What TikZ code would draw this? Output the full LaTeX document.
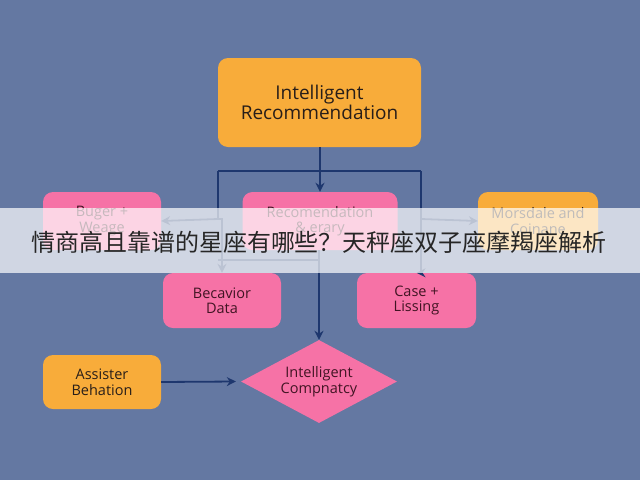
\documentclass[tikz,border=0pt]{standalone}
\usepackage{fontspec}
\setmainfont{Open Sans}
\newfontfamily\cjk{Noto Sans CJK SC}
\usetikzlibrary{arrows.meta,shapes.geometric}
\definecolor{bgc}{RGB}{100,120,162}
\definecolor{orng}{RGB}{248,172,58}
\definecolor{pnk}{RGB}{246,114,166}
\definecolor{navy}{RGB}{30,55,110}
\definecolor{txtd}{RGB}{40,30,25}
\definecolor{txtp}{RGB}{65,20,35}
\begin{document}
\begin{tikzpicture}[x=1pt,y=-1pt,
  box/.style={rounded corners=10pt,align=center,inner sep=0pt,font=\fontsize{14.5}{15.5}\selectfont},
  obox/.style={box,fill=orng,text=txtd},
  pbox/.style={box,fill=pnk,text=txtp},
  conn/.style={draw=navy,line width=1.8pt},
  arr/.style={conn,-{Stealth[length=9pt,width=9pt]}}]
\fill[bgc] (0,0) rectangle (640,480);
\useasboundingbox (0,0) rectangle (640,480);

\node[obox,minimum width=203pt,minimum height=89pt,font=\fontsize{19}{20}\selectfont] (top) at (319.5,102.5) {Intelligent\\Recommendation};
\node[pbox,minimum width=118pt,minimum height=58pt] (buger) at (102,221) {Buger +\\Weage};
\node[pbox,minimum width=155pt,minimum height=58pt] (recom) at (320,221) {Recomendation\\\& erary};
\node[obox,minimum width=120pt,minimum height=58pt] (mors) at (538,221) {Morsdale and\\Coinane};
\node[pbox,minimum width=118pt,minimum height=55pt] (beca) at (222,300.5) {Becavior\\Data};
\node[pbox,minimum width=119pt,minimum height=55pt] (case) at (416.5,300.5) {Case +\\Lissing};
\node[obox,minimum width=118pt,minimum height=54pt] (assi) at (102,382) {Assister\\Behation};
\node[diamond,aspect=1.88,fill=pnk,text=txtp,align=center,inner sep=0pt,minimum width=156pt,minimum height=83pt,font=\fontsize{14.5}{15.5}\selectfont] (dia) at (319,381.5) {Intelligent\\Compnatcy};

\coordinate (hl) at (218,171);
\coordinate (hr) at (421,171);
\coordinate (ml) at (218,219);
\coordinate (mr) at (421,219);
\coordinate (jl) at (218,260);
\coordinate (jc) at (318,260);

\draw[arr] (top.south -| recom.north) -- (recom.north);
\draw[conn] (hl) -- (hr);
\draw[arr] (hl) -- (ml) -- (ml -| beca.north) -- (beca.north);
\draw[arr] (hr) -- (mr) -- (mr |- case.north) -- (case.north);
\draw[arr] (ml) -- (buger.east);
\draw[arr] (mr) -- (mors.west);
\draw[conn] (jl) -- (jc);
\draw[arr] (recom.south -| dia.north) -- (dia.north);
\draw[arr] (assi.east) -- ([xshift=-5pt]dia.west);

\fill[white,opacity=0.7] (0,208) rectangle (640,273);
\node[text=black!85,font=\cjk\fontsize{24}{25}\selectfont,inner sep=0pt] (banner) at (319,242) {情商高且靠谱的星座有哪些？天秤座双子座摩羯座解析};
\end{tikzpicture}
\end{document}
